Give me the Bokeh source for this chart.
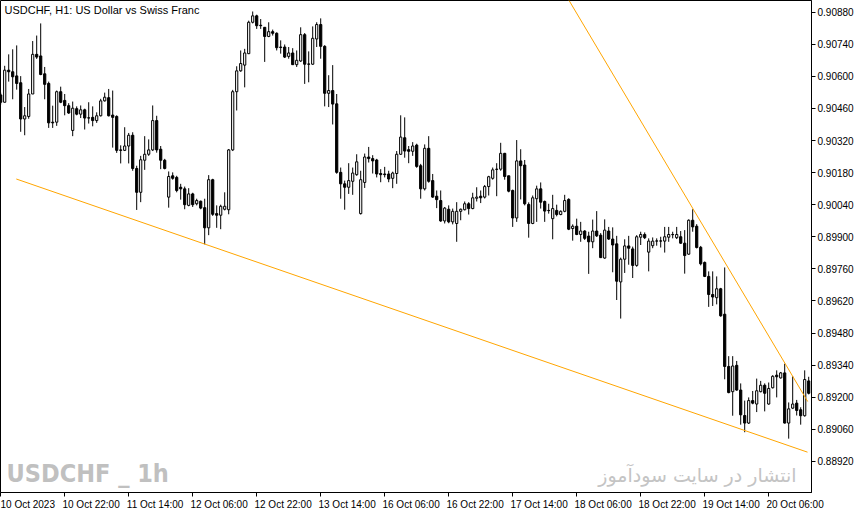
import pandas as pd
from bokeh.plotting import figure
from bokeh.models import Range1d, FixedTicker, Label, PrintfTickFormatter
from bokeh.embed import file_html
from bokeh.resources import INLINE

# USDCHF H1 bars, 10 Oct 06:00 .. 20 Oct 16:00 (weekend skipped)
times = list(pd.date_range("2023-10-10 06:00", "2023-10-13 23:00", freq="h")) + \
        list(pd.date_range("2023-10-16 00:00", "2023-10-20 16:00", freq="h"))

opens = [
    0.90519, 0.90487, 0.90627, 0.90620, 0.90602, 0.90572, 0.90414, 0.90425, 0.90523, 0.90696,
    0.90689, 0.90611, 0.90569, 0.90400, 0.90400, 0.90533, 0.90495, 0.90472, 0.90364, 0.90459,
    0.90435, 0.90454, 0.90419, 0.90421, 0.90407, 0.90428, 0.90493, 0.90507, 0.90431, 0.90425,
    0.90279, 0.90277, 0.90296, 0.90343, 0.90198, 0.90094, 0.90234, 0.90260, 0.90279, 0.90407,
    0.90282, 0.90234, 0.90073, 0.90166, 0.90159, 0.90116, 0.90109, 0.90037, 0.90087, 0.90044,
    0.90055, 0.90027, 0.89939, 0.90149, 0.90001, 0.89994, 0.90020, 0.90018, 0.90279, 0.90533,
    0.90624, 0.90649, 0.90699, 0.90836, 0.90864, 0.90823, 0.90814, 0.90774, 0.90795, 0.90788,
    0.90728, 0.90728, 0.90687, 0.90702, 0.90651, 0.90667, 0.90782, 0.90654, 0.90653, 0.90763,
    0.90826, 0.90731, 0.90526, 0.90538, 0.90480, 0.90181, 0.90131, 0.90116, 0.90142, 0.90171,
    0.90001, 0.90137, 0.90248, 0.90241, 0.90235, 0.90176, 0.90174, 0.90174, 0.90155, 0.90176,
    0.90260, 0.90332, 0.90280, 0.90273, 0.90300, 0.90210, 0.90109, 0.90286, 0.90145, 0.90077,
    0.90058, 0.89969, 0.90020, 0.89965, 0.89958, 0.90011, 0.90018, 0.90044, 0.90023, 0.90068,
    0.90077, 0.90073, 0.90119, 0.90155, 0.90195, 0.90195, 0.90264, 0.90166, 0.90102, 0.89982,
    0.90231, 0.90213, 0.90041, 0.89958, 0.90066, 0.90109, 0.90054, 0.90015, 0.89979, 0.90015,
    0.89997, 0.90011, 0.90063, 0.89936, 0.89946, 0.89910, 0.89925, 0.89903, 0.89878, 0.89925,
    0.89907, 0.89807, 0.89925, 0.89890, 0.89869, 0.89703, 0.89802, 0.89860, 0.89847, 0.89775,
    0.89898, 0.89910, 0.89833, 0.89861, 0.89882, 0.89881, 0.89881, 0.89898, 0.89910, 0.89896,
    0.89900, 0.89872, 0.89824, 0.89972, 0.89946, 0.89854, 0.89788, 0.89727, 0.89648, 0.89634,
    0.89673, 0.89562, 0.89334, 0.89224, 0.89339, 0.89231, 0.89120, 0.89087, 0.89185, 0.89170,
    0.89224, 0.89252, 0.89170, 0.89241, 0.89296, 0.89284, 0.89306, 0.89087, 0.89152, 0.89174,
    0.89145, 0.89119, 0.89271,
]
highs = [
    0.90529, 0.90646, 0.90696, 0.90718, 0.90735, 0.90601, 0.90466, 0.90545, 0.90754, 0.90778,
    0.90831, 0.90641, 0.90577, 0.90472, 0.90538, 0.90555, 0.90523, 0.90483, 0.90490, 0.90469,
    0.90473, 0.90459, 0.90487, 0.90469, 0.90443, 0.90502, 0.90529, 0.90545, 0.90538, 0.90430,
    0.90299, 0.90378, 0.90353, 0.90356, 0.90210, 0.90253, 0.90339, 0.90325, 0.90473, 0.90428,
    0.90296, 0.90240, 0.90185, 0.90181, 0.90166, 0.90131, 0.90119, 0.90112, 0.90092, 0.90066,
    0.90058, 0.90066, 0.90169, 0.90153, 0.90037, 0.90040, 0.90094, 0.90283, 0.90541, 0.90644,
    0.90713, 0.90720, 0.90843, 0.90883, 0.90869, 0.90850, 0.90814, 0.90836, 0.90804, 0.90792,
    0.90757, 0.90739, 0.90728, 0.90723, 0.90713, 0.90814, 0.90789, 0.90709, 0.90818, 0.90836,
    0.90853, 0.90736, 0.90605, 0.90649, 0.90523, 0.90202, 0.90145, 0.90221, 0.90202, 0.90260,
    0.90188, 0.90263, 0.90292, 0.90256, 0.90240, 0.90195, 0.90205, 0.90188, 0.90184, 0.90274,
    0.90430, 0.90421, 0.90296, 0.90313, 0.90306, 0.90218, 0.90303, 0.90339, 0.90174, 0.90102,
    0.90102, 0.90030, 0.90037, 0.90023, 0.90051, 0.90023, 0.90054, 0.90051, 0.90092, 0.90116,
    0.90102, 0.90126, 0.90166, 0.90202, 0.90221, 0.90310, 0.90266, 0.90166, 0.90106, 0.90322,
    0.90282, 0.90235, 0.90050, 0.90080, 0.90123, 0.90137, 0.90058, 0.90044, 0.90083, 0.90040,
    0.90015, 0.90083, 0.90068, 0.89954, 0.89979, 0.89965, 0.89929, 0.89922, 0.89975, 0.90012,
    0.89916, 0.89976, 0.89943, 0.89941, 0.89904, 0.89809, 0.89889, 0.89904, 0.89857, 0.89907,
    0.89922, 0.89919, 0.89893, 0.89897, 0.89893, 0.89900, 0.89943, 0.89943, 0.89922, 0.89943,
    0.89925, 0.89929, 0.89976, 0.90020, 0.89955, 0.89860, 0.89792, 0.89749, 0.89749, 0.89727,
    0.89677, 0.89766, 0.89379, 0.89379, 0.89358, 0.89260, 0.89185, 0.89199, 0.89227, 0.89281,
    0.89271, 0.89260, 0.89264, 0.89296, 0.89317, 0.89310, 0.89346, 0.89177, 0.89291, 0.89188,
    0.89156, 0.89317, 0.89289,
]
lows = [
    0.90477, 0.90486, 0.90577, 0.90500, 0.90542, 0.90358, 0.90343, 0.90415, 0.90523, 0.90676,
    0.90605, 0.90500, 0.90375, 0.90375, 0.90384, 0.90483, 0.90430, 0.90436, 0.90339, 0.90430,
    0.90418, 0.90368, 0.90394, 0.90382, 0.90397, 0.90425, 0.90490, 0.90425, 0.90289, 0.90266,
    0.90220, 0.90274, 0.90220, 0.90188, 0.90017, 0.90051, 0.90192, 0.90253, 0.90274, 0.90267,
    0.90195, 0.90194, 0.90027, 0.90149, 0.90094, 0.90062, 0.90020, 0.90033, 0.90030, 0.90037,
    0.90020, 0.89867, 0.89907, 0.89991, 0.89939, 0.89933, 0.90015, 0.89998, 0.90274, 0.90451,
    0.90620, 0.90552, 0.90697, 0.90831, 0.90807, 0.90807, 0.90663, 0.90771, 0.90778, 0.90713,
    0.90699, 0.90680, 0.90677, 0.90650, 0.90641, 0.90663, 0.90567, 0.90574, 0.90650, 0.90728,
    0.90677, 0.90469, 0.90466, 0.90390, 0.90175, 0.90066, 0.90018, 0.90087, 0.90083, 0.90166,
    0.89997, 0.90113, 0.90224, 0.90176, 0.90159, 0.90138, 0.90159, 0.90138, 0.90112, 0.90131,
    0.90257, 0.90245, 0.90221, 0.90253, 0.90201, 0.90066, 0.90102, 0.90136, 0.90070, 0.90025,
    0.89965, 0.89958, 0.89959, 0.89954, 0.89878, 0.89972, 0.90015, 0.89997, 0.90020, 0.90054,
    0.90047, 0.90067, 0.90080, 0.90149, 0.90077, 0.90188, 0.90149, 0.90094, 0.89943, 0.89965,
    0.90063, 0.90037, 0.89896, 0.89955, 0.89965, 0.90023, 0.89965, 0.90001, 0.89889, 0.89989,
    0.89994, 0.90007, 0.89929, 0.89883, 0.89907, 0.89878, 0.89886, 0.89738, 0.89850, 0.89899,
    0.89807, 0.89804, 0.89886, 0.89745, 0.89624, 0.89543, 0.89742, 0.89778, 0.89720, 0.89769,
    0.89864, 0.89890, 0.89749, 0.89850, 0.89861, 0.89853, 0.89831, 0.89878, 0.89893, 0.89890,
    0.89869, 0.89739, 0.89821, 0.89922, 0.89849, 0.89775, 0.89724, 0.89594, 0.89598, 0.89605,
    0.89551, 0.89278, 0.89217, 0.89119, 0.89228, 0.89080, 0.89047, 0.89083, 0.89169, 0.89135,
    0.89221, 0.89138, 0.89167, 0.89238, 0.89199, 0.89281, 0.89085, 0.89019, 0.89148, 0.89120,
    0.89080, 0.89115, 0.89212,
]
closes = [
    0.90487, 0.90627, 0.90620, 0.90598, 0.90569, 0.90414, 0.90428, 0.90523, 0.90696, 0.90684,
    0.90608, 0.90565, 0.90397, 0.90397, 0.90533, 0.90487, 0.90472, 0.90440, 0.90461, 0.90435,
    0.90454, 0.90418, 0.90418, 0.90407, 0.90428, 0.90493, 0.90509, 0.90428, 0.90421, 0.90277,
    0.90277, 0.90296, 0.90343, 0.90198, 0.90094, 0.90236, 0.90260, 0.90279, 0.90407, 0.90279,
    0.90234, 0.90198, 0.90163, 0.90155, 0.90102, 0.90109, 0.90040, 0.90087, 0.90040, 0.90058,
    0.90025, 0.89939, 0.90149, 0.89998, 0.89994, 0.90033, 0.90033, 0.90279, 0.90533, 0.90624,
    0.90656, 0.90702, 0.90836, 0.90864, 0.90821, 0.90821, 0.90774, 0.90795, 0.90788, 0.90725,
    0.90726, 0.90684, 0.90702, 0.90651, 0.90670, 0.90782, 0.90653, 0.90653, 0.90766, 0.90826,
    0.90731, 0.90526, 0.90538, 0.90479, 0.90181, 0.90131, 0.90116, 0.90145, 0.90178, 0.90227,
    0.90149, 0.90248, 0.90241, 0.90231, 0.90174, 0.90171, 0.90171, 0.90152, 0.90178, 0.90260,
    0.90335, 0.90274, 0.90273, 0.90296, 0.90207, 0.90109, 0.90286, 0.90142, 0.90073, 0.90062,
    0.89969, 0.90025, 0.89965, 0.90011, 0.90011, 0.90020, 0.90044, 0.90023, 0.90070, 0.90073,
    0.90070, 0.90119, 0.90162, 0.90192, 0.90194, 0.90264, 0.90163, 0.90099, 0.89982, 0.90231,
    0.90210, 0.90044, 0.89958, 0.90070, 0.90109, 0.90051, 0.90012, 0.90014, 0.90023, 0.89997,
    0.90011, 0.90058, 0.89933, 0.89946, 0.89910, 0.89925, 0.89893, 0.89878, 0.89925, 0.89904,
    0.89809, 0.89929, 0.89890, 0.89864, 0.89706, 0.89802, 0.89860, 0.89850, 0.89775, 0.89900,
    0.89910, 0.89896, 0.89881, 0.89881, 0.89881, 0.89882, 0.89900, 0.89910, 0.89909, 0.89910,
    0.89872, 0.89818, 0.89972, 0.89943, 0.89853, 0.89782, 0.89727, 0.89648, 0.89637, 0.89673,
    0.89555, 0.89334, 0.89220, 0.89336, 0.89231, 0.89123, 0.89087, 0.89185, 0.89174, 0.89228,
    0.89252, 0.89217, 0.89238, 0.89291, 0.89289, 0.89306, 0.89087, 0.89149, 0.89170, 0.89142,
    0.89119, 0.89277, 0.89217,
]

# trend lines, anchored in (bar number, price)
lower_bars = [3.9, 201.7]
lower_prices = [0.90152, 0.88960]
upper_bars = [139.4, 201.75]
upper_prices = [0.91010, 0.89181]

price_ticks = [0.88920, 0.89060, 0.89200, 0.89340, 0.89480, 0.89620, 0.89760, 0.89900,
               0.90040, 0.90180, 0.90320, 0.90460, 0.90600, 0.90740, 0.90880]

bars = list(range(len(times)))
tick_bars = bars[::16]

# MT4 writes the time label to the right of its tick, bokeh centres it:
# put the label ticks half a label width (in bars) to the right, draw the real ticks as minor ticks
LABEL_SHIFT = 6.6
label_ticks = [i + LABEL_SHIFT for i in tick_bars]
tick_labels = {}
for i, lt in zip(tick_bars, label_ticks):
    t = times[i]
    tick_labels[lt] = t.strftime("%d %b %Y") if i == 0 else t.strftime("%d %b %H:%M")

FONT = "Liberation Sans"

p = figure(width=856, height=512, output_backend="svg", toolbar_location=None,
           x_range=Range1d(-0.05, 202.7), y_range=Range1d(0.88784, 0.90931),
           y_axis_location="right", background_fill_color="white")
p.min_border_left = 0
p.min_border_top = 0
p.min_border_right = 0
p.min_border_bottom = 0
p.outline_line_color = "black"
p.outline_line_alpha = 1
p.xgrid.visible = False
p.ygrid.visible = False

# candles
bull = [c > o for o, c in zip(opens, closes)]
tops = [max(o, c) for o, c in zip(opens, closes)]
bots = [min(o, c) for o, c in zip(opens, closes)]
fills = ["white" if b else "black" for b in bull]
p.segment(x0=bars, y0=highs, x1=bars, y1=lows, line_color="black", line_width=1)
p.vbar(x=bars, width=0.55, top=tops, bottom=bots, fill_color=fills, line_color="black", line_width=1)

# trend lines
p.line(lower_bars, lower_prices, line_color="#ffa500", line_width=1)
p.line(upper_bars, upper_prices, line_color="#ffa500", line_width=1)

# axes
p.yaxis.ticker = FixedTicker(ticks=price_ticks)
p.yaxis.formatter = PrintfTickFormatter(format="%.5f")
p.yaxis.major_tick_out = 4
p.yaxis.major_tick_in = 0
p.yaxis.minor_tick_line_color = None
p.yaxis.major_label_text_font = FONT
p.yaxis.major_label_text_font_size = "10px"
p.yaxis.major_label_text_color = "black"
p.yaxis.major_label_standoff = 2
p.yaxis.axis_line_color = "black"

p.xaxis.ticker = FixedTicker(ticks=label_ticks, minor_ticks=tick_bars)
p.xaxis.major_label_overrides = tick_labels
p.xaxis.major_tick_line_color = None
p.xaxis.major_tick_out = 4
p.xaxis.major_tick_in = 0
p.xaxis.minor_tick_out = 4
p.xaxis.minor_tick_in = 0
p.xaxis.minor_tick_line_color = "black"
p.xaxis.major_label_text_font = FONT
p.xaxis.major_label_text_font_size = "10px"
p.xaxis.major_label_text_color = "black"
p.xaxis.major_label_standoff = 2
p.xaxis.axis_line_color = "black"

x0, x1 = p.x_range.start, p.x_range.end
y0, y1 = p.y_range.start, p.y_range.end

p.add_layout(Label(x=x0, y=y1, x_offset=4, y_offset=-3, text="USDCHF, H1:  US Dollar vs Swiss Franc",
                   text_baseline="top", text_font=FONT, text_font_size="11px", text_color="black"))
p.add_layout(Label(x=x0, y=y0, x_offset=6, y_offset=5, text="USDCHF _ 1h",
                   text_baseline="bottom", text_font="DejaVu Sans Condensed, DejaVu Sans, sans-serif",
                   text_font_style="bold", text_font_size="25px", text_color="#c0c0c0"))
p.add_layout(Label(x=x1, y=y0, x_offset=-15, y_offset=7, text="انتشار در سایت سودآموز",
                   text_align="right", text_baseline="bottom", text_font="DejaVu Sans",
                   text_font_size="19px", text_color="#c4c4c4"))

open("out.html", "w").write(file_html(p, INLINE))
